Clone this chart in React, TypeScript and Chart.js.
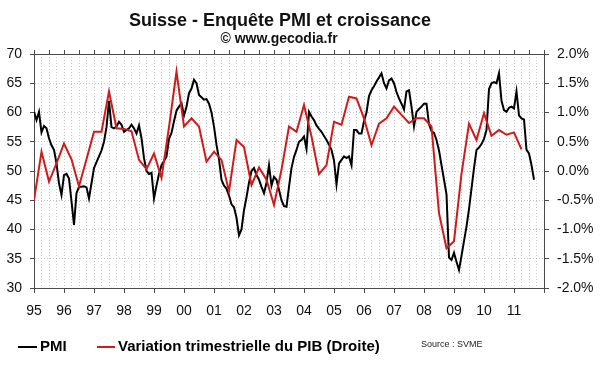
import React, { useEffect, useRef } from "react";
import { Chart, registerables } from "chart.js";

Chart.register(...registerables);

// Monthly PMI, Jan 1995 .. Sep 2011 (left axis)
const PMI_1995 = [60.1, 58.7, 60.1, 56.6, 57.7, 57.3, 55.6, 54.4, 53.6, 51.3, 47.9, 45.9];
const PMI_1996 = [49.3, 49.5, 48.7, 44.8, 40.8, 46.2, 47.3, 47.3, 47.4, 47.2, 45.3, 47.9];
const PMI_1997 = [50.5, 51.5, 52.5, 53.5, 55.0, 57.5, 62.0, 57.5, 57.3, 57.6, 58.4, 57.9];
const PMI_1998 = [56.7, 57.0, 57.3, 57.9, 57.3, 56.4, 57.8, 55.6, 52.2, 50.0, 49.5, 49.7];
const PMI_1999 = [45.3, 47.5, 49.5, 51.0, 51.7, 52.5, 55.5, 56.5, 58.5, 60.3, 61.0, 61.6];
const PMI_2000 = [59.5, 61.0, 63.3, 64.1, 65.6, 65.0, 63.0, 62.6, 62.2, 62.3, 61.5, 60.0];
const PMI_2001 = [57.6, 54.5, 52.0, 48.5, 47.5, 47.0, 45.8, 44.3, 43.8, 42.0, 39.0, 40.0];
const PMI_2002 = [43.3, 45.5, 48.0, 50.0, 50.5, 49.3, 48.5, 47.3, 46.2, 48.0, 51.0, 47.5];
const PMI_2003 = [49.0, 48.5, 46.8, 45.0, 44.0, 43.9, 47.3, 50.5, 52.4, 53.6, 55.0, 55.3];
const PMI_2004 = [55.9, 53.8, 60.1, 59.3, 58.7, 57.8, 57.2, 56.7, 56.0, 55.3, 54.5, 53.6];
const PMI_2005 = [51.8, 47.7, 51.3, 51.9, 52.5, 52.2, 52.5, 51.0, 57.0, 57.0, 56.4, 56.4];
const PMI_2006 = [58.5, 60.0, 62.8, 63.8, 64.5, 65.3, 66.0, 66.7, 65.0, 64.1, 65.5, 65.8];
const PMI_2007 = [65.0, 63.5, 62.4, 61.5, 60.5, 63.6, 63.8, 61.0, 57.6, 60.1, 60.6, 61.0];
const PMI_2008 = [61.5, 61.5, 58.0, 56.8, 56.5, 55.3, 53.5, 51.0, 48.5, 46.0, 35.2, 34.8];
const PMI_2009 = [36.0, 34.5, 33.1, 35.5, 38.0, 40.5, 43.5, 47.0, 50.5, 53.6, 54.0, 54.6];
const PMI_2010 = [55.5, 57.0, 64.0, 65.0, 65.2, 65.0, 66.7, 62.0, 60.4, 60.1, 60.8, 61.0];
const PMI_2011 = [60.7, 63.6, 59.5, 59.0, 58.8, 53.6, 53.0, 51.0, 48.5];

const PMI = [
  ...PMI_1995, ...PMI_1996, ...PMI_1997, ...PMI_1998, ...PMI_1999, ...PMI_2000,
  ...PMI_2001, ...PMI_2002, ...PMI_2003, ...PMI_2004, ...PMI_2005, ...PMI_2006,
  ...PMI_2007, ...PMI_2008, ...PMI_2009, ...PMI_2010, ...PMI_2011,
];

// Quarterly GDP change in %, Q1 1995 .. Q2 2011 (right axis)
const GDP = [
  -0.5, 0.33, -0.18, 0.13,
  0.47, 0.2, -0.26, 0.2,
  0.67, 0.67, 1.36, 0.73,
  0.72, 0.68, 0.19, 0.03,
  0.3, -0.12, 0.75, 1.7,
  0.76, 0.9, 0.76, 0.16,
  0.33, 0.19, -0.35, 0.53,
  0.41, -0.24, 0.06, -0.15,
  -0.58, 0.02, 0.76, 0.67,
  1.13, 0.59, -0.05, 0.1,
  0.84, 0.79, 1.27, 1.24,
  0.9, 0.44, 0.81, 0.9,
  1.1, 0.96, 0.82, 0.9,
  0.9, 0.76, -0.72, -1.32,
  -1.2, -0.05, 0.81, 0.53,
  0.99, 0.6, 0.7, 0.62,
  0.66, 0.37,
];

const FIRST_YEAR = 95;
const MONTHS_TOTAL = 204; // Jan 1995 .. Jan 2012
const LEFT_MIN = 30;
const LEFT_MAX = 70;
const RIGHT_MIN = -2;
const RIGHT_MAX = 2;

const TITLE = "Suisse - Enquête PMI et croissance";
const SUBTITLE = "© www.gecodia.fr";
const LABEL_PMI = "PMI";
const LABEL_GDP = "Variation trimestrielle du PIB (Droite)";
const SOURCE = "Source : SVME";

const FONT = '"Liberation Sans", Arial, Helvetica, sans-serif';
const RED = "#cf1b1b";
const AXIS = "#4a4a4a";
const GRID = "#c4c4c4";

const decorPlugin = {
  id: "decor",
  afterDraw(chart: any) {
    const ctx = chart.ctx;
    ctx.save();
    ctx.fillStyle = "#111";
    ctx.textAlign = "center";
    ctx.textBaseline = "middle";
    ctx.font = `bold 18px ${FONT}`;
    ctx.fillText(TITLE, 280, 21);
    ctx.font = `bold 14px ${FONT}`;
    ctx.fillText(SUBTITLE, 279, 39);

    // legend
    ctx.lineWidth = 2;
    ctx.strokeStyle = "#000";
    ctx.beginPath();
    ctx.moveTo(18, 347);
    ctx.lineTo(37, 347);
    ctx.stroke();
    ctx.strokeStyle = RED;
    ctx.beginPath();
    ctx.moveTo(97, 347);
    ctx.lineTo(115, 347);
    ctx.stroke();
    ctx.textAlign = "left";
    ctx.font = `bold 15px ${FONT}`;
    ctx.fillStyle = "#000";
    ctx.fillText(LABEL_PMI, 40, 347);
    ctx.fillText(LABEL_GDP, 118, 347);
    ctx.font = `9px ${FONT}`;
    ctx.fillStyle = "#222";
    ctx.fillText(SOURCE, 421, 345);
    ctx.restore();
  },
};

export default function App() {
  const ref = useRef<HTMLCanvasElement | null>(null);

  useEffect(() => {
    if (!ref.current) return;
    const pmiData = PMI.map((v, i) => ({ x: i, y: v }));
    const gdpData = GDP.map((v, i) => ({ x: i * 3, y: v }));

    const chart = new Chart(ref.current, {
      type: "line",
      data: {
        datasets: [
          {
            label: LABEL_GDP,
            data: gdpData,
            yAxisID: "y2",
            xAxisID: "x",
            borderColor: RED,
            borderWidth: 2,
            pointRadius: 0,
            tension: 0,
            order: 0,
          },
          {
            label: LABEL_PMI,
            data: pmiData,
            yAxisID: "y",
            xAxisID: "x",
            borderColor: "#000",
            borderWidth: 2,
            pointRadius: 0,
            tension: 0,
            order: 1,
          },
        ],
      },
      options: {
        responsive: false,
        animation: false,
        devicePixelRatio: 1,
        layout: { padding: { top: 50, left: 0, right: 0, bottom: 0 } },
        plugins: { legend: { display: false }, tooltip: { enabled: false }, title: { display: false } },
        scales: {
          x: {
            type: "linear",
            position: "bottom",
            min: 0,
            max: MONTHS_TOTAL,
            afterFit: (s: any) => { s.height = 84; },
            ticks: {
              stepSize: 3,
              autoSkip: false,
              maxRotation: 0,
              padding: 10,
              color: "#111",
              font: { family: FONT, size: 14 },
              callback: (v: any) => {
                const n = Number(v);
                if (n % 12 !== 0 || n >= MONTHS_TOTAL) return "";
                return String((FIRST_YEAR + n / 12) % 100).padStart(2, "0");
              },
            },
            grid: {
              color: GRID,
              lineWidth: 1,
              tickLength: 5,
              tickColor: (c: any) => (c.tick && Number(c.tick.value) % 12 === 0 ? AXIS : "rgba(0,0,0,0)"),
            },
            border: { color: AXIS, width: 1, dash: [1, 2] },
          },
          x2: {
            type: "linear",
            position: "top",
            min: 0,
            max: MONTHS_TOTAL,
            afterFit: (s: any) => { s.height = 4; },
            ticks: { display: false, stepSize: 6 },
            grid: { drawOnChartArea: false, tickLength: 4, tickColor: AXIS },
            border: { color: AXIS, width: 1 },
          },
          y: {
            type: "linear",
            position: "left",
            min: LEFT_MIN,
            max: LEFT_MAX,
            afterFit: (s: any) => { s.width = 34; },
            ticks: {
              stepSize: 5,
              padding: 8,
              color: "#111",
              font: { family: FONT, size: 14 },
            },
            grid: { color: GRID, lineWidth: 1, tickLength: 4, tickColor: AXIS },
            border: { color: AXIS, width: 1, dash: [1, 2] },
          },
          y2: {
            type: "linear",
            position: "right",
            min: RIGHT_MIN,
            max: RIGHT_MAX,
            afterFit: (s: any) => { s.width = 56; },
            ticks: {
              stepSize: 0.5,
              padding: 8,
              color: "#111",
              font: { family: FONT, size: 14 },
              callback: (v: any) => Number(v).toFixed(1) + "%",
            },
            grid: { drawOnChartArea: false, tickLength: 5, tickColor: AXIS },
            border: { color: AXIS, width: 1 },
          },
        },
      },
      plugins: [decorPlugin],
    } as any);
    return () => chart.destroy();
  }, []);

  return (
    <div style={{ position: "absolute", left: 0, top: 0, width: 600, height: 372, background: "#fff" }}>
      <canvas ref={ref} width={600} height={372} style={{ width: 600, height: 372, display: "block" }} />
    </div>
  );
}
